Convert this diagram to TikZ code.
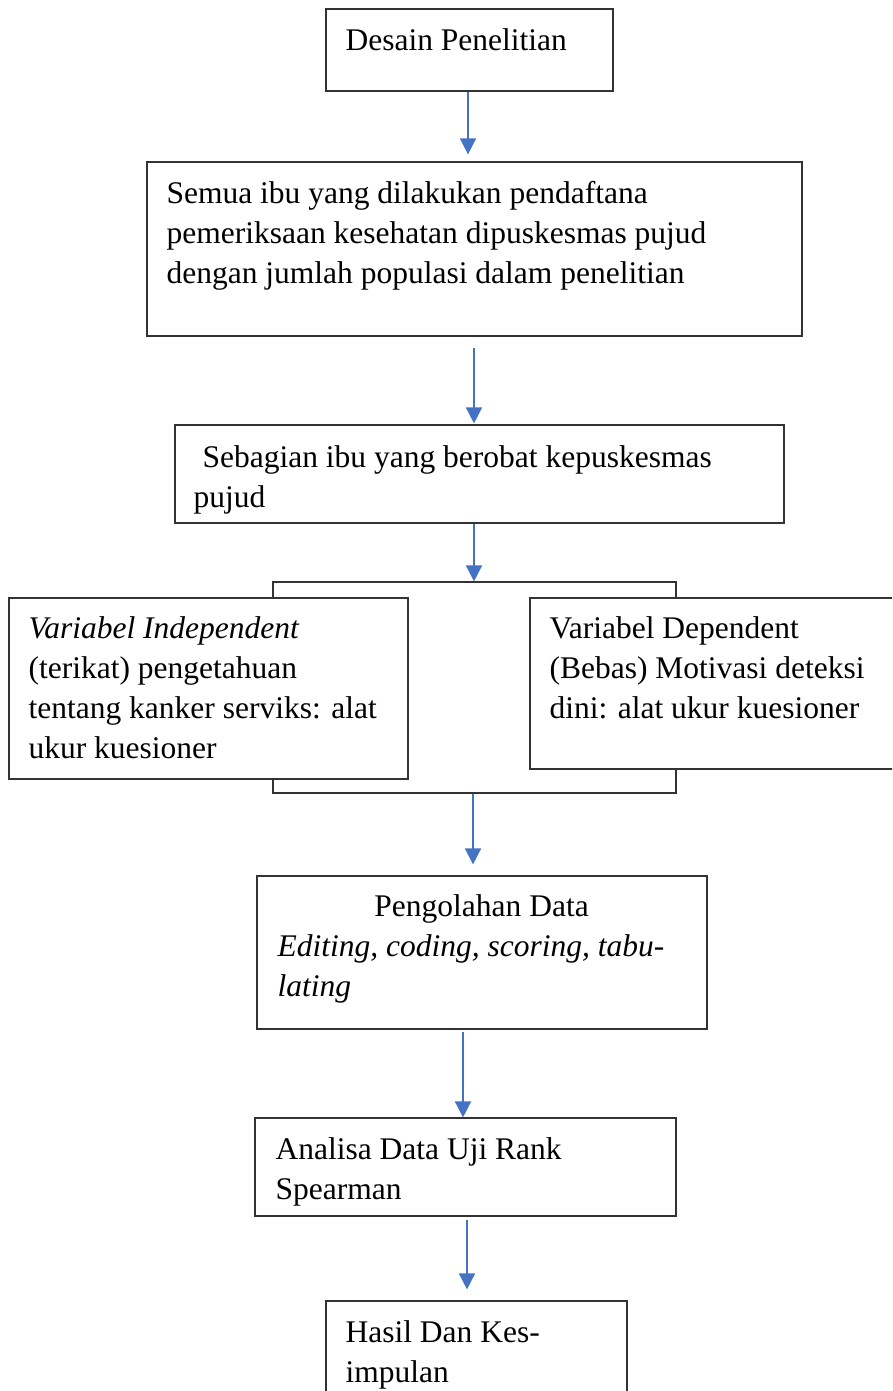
\documentclass[tikz,border=0pt]{standalone}
\usepackage{fontspec}
\setmainfont{Liberation Serif}
\usetikzlibrary{arrows.meta}

\definecolor{flowblue}{HTML}{4472C4}

\tikzset{
	box/.style = {draw = black!80, line width = 1.2pt, fill = white, inner sep = 0pt},
	txt/.style = {anchor = north west, inner sep = 0pt, align = left,
		font = \fontsize{31.5}{40}\selectfont},
	flow/.style = {->, draw = flowblue, line width = 1.6pt}
}

\begin{document}
\begin{tikzpicture}[x = 1pt, y = -1pt, > = {Triangle[width = 16pt, length = 16pt]}]

	% Page size
	
	\useasboundingbox (0, 0) rectangle (892, 1391);
	\clip (0, 0) rectangle (892, 1391);
	
	% Bracket box behind the two variables
	
	\node [box, minimum width = 403pt, minimum height = 211pt] (grup) at (474.5, 687.5) {};
	
	% The boxes
	
	\node [box, minimum width = 287pt, minimum height = 82pt] (desain) at (469.5, 50) {};
	\node [box, minimum width = 655pt, minimum height = 174pt] (semua) at (474.5, 249) {};
	\node [box, minimum width = 609pt, minimum height = 98pt] (sebagian) at (479.5, 474) {};
	\node [box, minimum width = 399pt, minimum height = 181pt] (terikat) at (208.5, 688.5) {};
	\node [box, minimum width = 364pt, minimum height = 171pt] (bebas) at (712, 683.5) {};
	\node [box, minimum width = 450pt, minimum height = 153pt] (olah) at (482, 952.5) {};
	\node [box, minimum width = 421pt, minimum height = 98pt] (analisa) at (465.5, 1167) {};
	\node [box, minimum width = 301pt, minimum height = 110pt] (hasil) at (476.5, 1356) {};
	
	% Texts in the boxes
	
	\node [txt] at ([shift = {(20pt, -14pt)}] desain.north west) {\strut Desain Penelitian};
	\node [txt] at ([shift = {(20pt, -14pt)}] semua.north west)
		{\strut Semua ibu yang dilakukan pendaftana\\
		pemeriksaan kesehatan dipuskesmas pujud\\
		dengan jumlah populasi dalam penelitian};
	\node [txt] at ([shift = {(19pt, -15pt)}] sebagian.north west)
		{\strut\hspace{9pt}Sebagian ibu yang berobat kepuskesmas\\
		pujud};
	\node [txt] at ([shift = {(20pt, -13pt)}] terikat.north west)
		{\strut\textit{Variabel Independent}\\
		(terikat) pengetahuan\\
		tentang kanker serviks: alat\\
		ukur kuesioner};
	\node [txt] at ([shift = {(20pt, -13pt)}] bebas.north west)
		{\strut Variabel Dependent\\
		(Bebas) Motivasi deteksi\\
		dini: alat ukur kuesioner};
	\node [txt] at ([shift = {(21pt, -13pt)}] olah.north west)
		{\strut\makebox[408pt]{Pengolahan Data}\\
		\textit{Editing, coding, scoring, tabu-}\\
		\textit{lating}};
	\node [txt] at ([shift = {(21pt, -14pt)}] analisa.north west)
		{\strut Analisa Data Uji Rank\\
		Spearman};
	\node [txt] at ([shift = {(20pt, -14pt)}] hasil.north west)
		{\strut Hasil Dan Kes-\\
		impulan};
	
	% Arrows between the steps
	
	\begin{scope}[flow]
	
		\draw [shorten > = 7pt] ([xshift = -1.5pt] desain.south) -- ([xshift = -6.5pt] semua.north);
		\draw [shorten < = 11pt, shorten > = 1pt] ([xshift = -0.5pt] semua.south) -- ([xshift = -5.5pt] sebagian.north);
		\draw ([xshift = -5.5pt] sebagian.south) -- ([xshift = -0.5pt] grup.north);
		\draw [shorten > = 11pt] ([xshift = -1.5pt] grup.south) -- ([xshift = -9pt] olah.north);
		\draw [shorten < = 2pt] ([xshift = -19pt] olah.south) -- ([xshift = -2.5pt] analisa.north);
		\draw [shorten < = 3pt, shorten > = 11pt] ([xshift = 1.5pt] analisa.south) -- ([xshift = -9.5pt] hasil.north);
		
	\end{scope}
	
\end{tikzpicture}
\end{document}
